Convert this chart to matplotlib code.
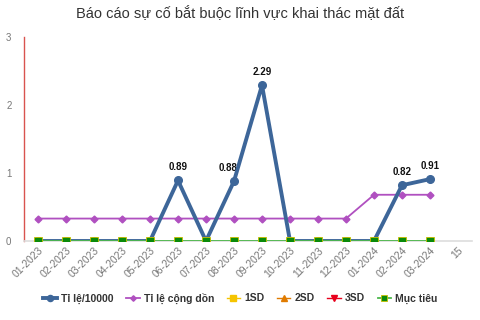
import matplotlib.pyplot as plt
import numpy as np

plt.rcParams['font.family'] = ['Liberation Sans', 'DejaVu Sans']

# ===============================
# DATA
# ===============================
months = ["01-2023", "02-2023", "03-2023", "04-2023", "05-2023", "06-2023",
          "07-2023", "08-2023", "09-2023", "10-2023", "11-2023", "12-2023",
          "01-2024", "02-2024", "03-2024", "15"]
ti_le = [0, 0, 0, 0, 0, 0.89, 0, 0.88, 2.29, 0, 0, 0, 0, 0.82, 0.91]
cong_don = [0.33] * 12 + [0.68, 0.68, 0.68]
sd1 = [0] * 15
sd2 = [0] * 15
sd3 = [0] * 15
muc_tieu = [0] * 15

x = np.arange(len(ti_le))

fig = plt.figure(figsize=(4.81, 3.2), dpi=100)
ax = fig.add_axes([24 / 481, 1 - 241 / 320, 448 / 481, 204 / 320])

ax.plot(x, sd1, color="#f5c400", marker="s", markersize=5, linewidth=1,
        label="1SD", zorder=2)
ax.plot(x, sd2, color="#e07b00", marker="^", markersize=5, linewidth=1,
        label="2SD", zorder=2)
ax.plot(x, sd3, color="#e8001c", marker="v", markersize=5, linewidth=1,
        label="3SD", zorder=2)
ax.plot(x, cong_don, color="#b050c0", marker="D", markersize=3.5,
        linewidth=1.3, label="Tỉ lệ cộng dồn", zorder=3)
ax.plot(x, ti_le, color="#3d6699", marker="o", markersize=5.5,
        linewidth=2.8, label="Tỉ lệ/10000", zorder=4)
ax.plot(x, muc_tieu, color="#4cb84c", marker="s", markersize=6,
        markerfacecolor="#0a8a0a", markeredgecolor="#c8c000",
        markeredgewidth=0.6, linewidth=1.3, label="Mục tiêu", zorder=5)

# value labels
for xi, v in zip(x, ti_le):
    if v > 0:
        dx = -4 if xi == 7 else 0
        ax.annotate(f"{v:.2f}", (xi, v), xytext=(dx, 6),
                    textcoords="offset points", ha="center", va="bottom",
                    fontsize=7, fontweight="bold", color="#111111")

ax.set_xlim(-0.5, 15.5)
ax.set_ylim(0, 3)
ax.set_xticks(np.arange(len(months)))
ax.set_xticklabels(months, rotation=45, ha="right", rotation_mode="anchor",
                   fontsize=7.5, color="#777777")
ax.set_yticks([0, 1, 2, 3])
ax.tick_params(axis="y", length=0, labelsize=7, labelcolor="#777777", pad=9)
ax.tick_params(axis="x", length=0, pad=3)

ax.spines["top"].set_visible(False)
ax.spines["right"].set_visible(False)
ax.spines["left"].set_color("#d9534f")
ax.spines["left"].set_linewidth(1)
ax.spines["bottom"].set_color("#dddddd")
ax.spines["bottom"].set_linewidth(1.2)

fig.suptitle("Báo cáo sự cố bắt buộc lĩnh vực khai thác mặt đất",
             x=0.5, y=0.985, fontsize=10.5, color="#333333")

handles, labels = ax.get_legend_handles_labels()
order = ["Tỉ lệ/10000", "Tỉ lệ cộng dồn", "1SD", "2SD", "3SD", "Mục tiêu"]
hl = dict(zip(labels, handles))
fig.legend([hl[k] for k in order], order, loc="center",
           bbox_to_anchor=(0.5, 1 - 298 / 320), ncol=6, frameon=False,
           prop={"size": 7.5, "weight": "bold"}, handlelength=1.3,
           handletextpad=0.4, columnspacing=1.2, labelcolor="#333333",
           markerscale=0.8)

fig.savefig("out.png", dpi=100)
